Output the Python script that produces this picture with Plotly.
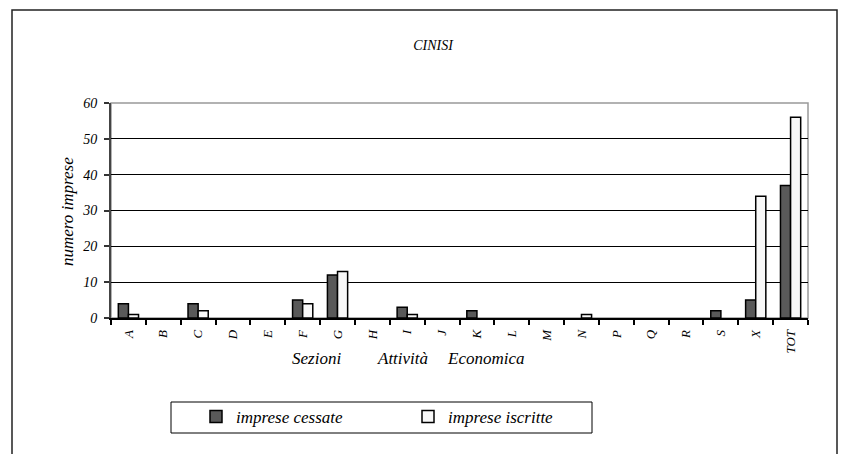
import plotly.graph_objects as go

categories = ["A", "B", "C", "D", "E", "F", "G", "H", "I", "J", "K", "L", "M", "N", "P", "Q", "R", "S", "X", "TOT"]
cessate = [4, 0, 4, 0, 0, 5, 12, 0, 3, 0, 2, 0, 0, 0, 0, 0, 0, 2, 5, 37]
iscritte = [1, 0, 2, 0, 0, 4, 13, 0, 1, 0, 0, 0, 0, 1, 0, 0, 0, 0, 34, 56]
y_ticks = [0, 10, 20, 30, 40, 50, 60]

FONT = "Liberation Serif"


def f(size):
    return dict(family=FONT, size=size, style="italic", color="black")


def hide_zero(vals):
    # zero-height bars are not drawn in the original chart
    return [v if v != 0 else None for v in vals]


fig = go.Figure()
fig.add_trace(go.Bar(x=categories, y=hide_zero(cessate), name="imprese cessate",
                     marker=dict(color="#595959", line=dict(color="black", width=1.5))))
fig.add_trace(go.Bar(x=categories, y=hide_zero(iscritte), name="imprese iscritte",
                     marker=dict(color="#f8f8f8", line=dict(color="black", width=1.5))))

L, R, T, B = 111, 33, 103, 136
W, H = 841, 454
pw = W - L - R
ph = H - T - B


def px(x):
    return (x - L) / pw


def py(y):
    return (H - B - y) / ph


fig.update_layout(
    width=W, height=H,
    margin=dict(l=L, r=R, t=T, b=B, autoexpand=False),
    paper_bgcolor="white", plot_bgcolor="white",
    barmode="group", bargap=0.42, bargroupgap=0,
    title=dict(text="CINISI", x=433 / W, xref="container", xanchor="center",
               y=1 - 45 / H, yref="container", yanchor="middle", font=f(14)),
    xaxis=dict(type="category", categoryorder="array", categoryarray=categories,
               tickangle=-90, tickfont=f(13), ticklabelstandoff=5,
               ticks="outside", ticklen=5, tickwidth=1.5, tickcolor="black",
               tickson="boundaries", automargin=False,
               showline=True, linecolor="black", linewidth=1.5,
               showgrid=False, zeroline=False),
    yaxis=dict(range=[0, 60], tickvals=y_ticks, ticktext=[str(v) for v in y_ticks],
               tickfont=f(14), automargin=False, ticklabelstandoff=4,
               ticks="outside", ticklen=5, tickwidth=1.5, tickcolor="#333",
               showline=True, linecolor="#444", linewidth=2,
               showgrid=True, gridcolor="black", gridwidth=1, zeroline=False),
    legend=dict(orientation="h", x=px(196), xanchor="left", y=py(417), yanchor="middle",
                borderwidth=0, bgcolor="rgba(0,0,0,0)",
                entrywidth=167, entrywidthmode="pixels", font=f(17)),
    showlegend=True,
)

fig.add_shape(type="rect", xref="paper", yref="paper", x0=0, x1=1, y0=0, y1=1,
              line=dict(color="#999999", width=1.5), layer="below")
fig.add_shape(type="rect", xref="paper", yref="paper",
              x0=px(12), x1=px(837), y0=py(470), y1=py(10),
              line=dict(color="#222222", width=1.5), layer="below")
fig.add_shape(type="rect", xref="paper", yref="paper",
              x0=px(171), x1=px(592), y0=py(433), y1=py(402),
              line=dict(color="black", width=1), layer="below")

fig.add_annotation(text="numero imprese", textangle=-90, xref="paper", yref="paper",
                   x=px(67), y=py(212), xanchor="center", yanchor="middle", showarrow=False,
                   font=f(17))
for txt, cx in [("Sezioni", 316), ("Attività", 402), ("Economica", 486)]:
    fig.add_annotation(text=txt, xref="paper", yref="paper", x=px(cx), y=py(358),
                       xanchor="center", yanchor="middle", showarrow=False, font=f(17))

fig.write_html("out.html", config={"displayModeBar": False},
               post_script="document.body.style.margin='0';document.body.style.overflow='hidden';")
